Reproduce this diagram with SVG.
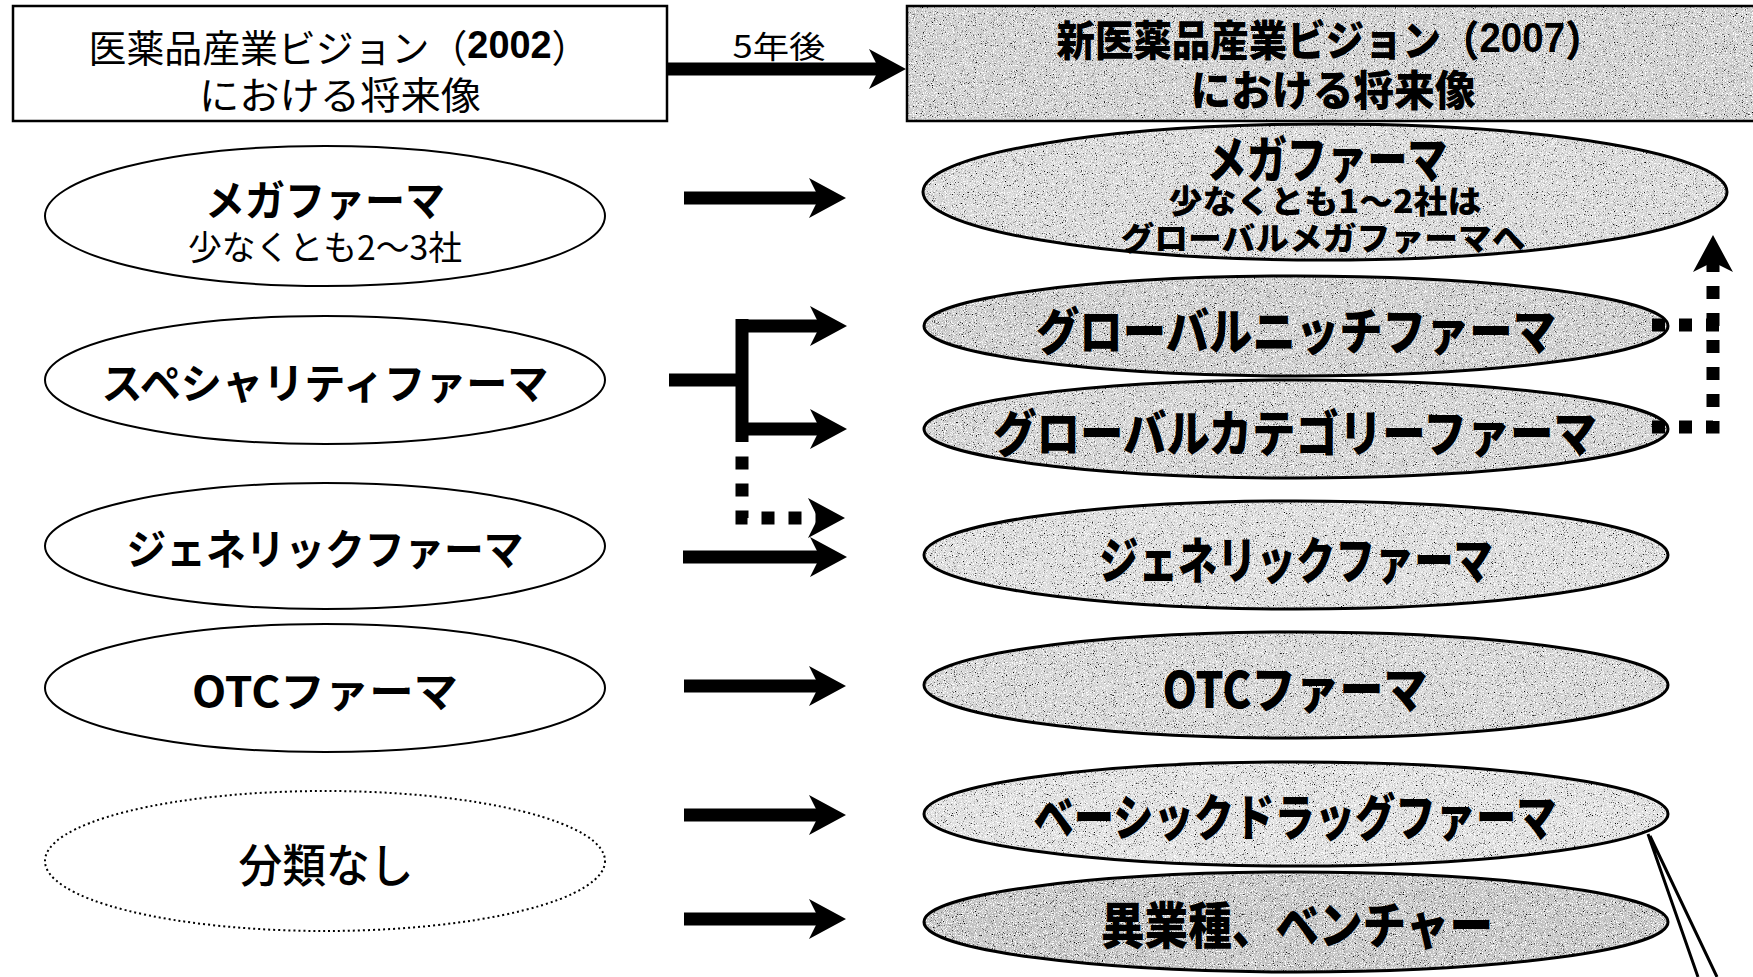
<svg xmlns="http://www.w3.org/2000/svg" width="1753" height="977" viewBox="0 0 1753 977">
<defs>
<style>
text{font-family:"Noto Sans CJK JP","Noto Sans",sans-serif;fill:#000;text-anchor:middle;dominant-baseline:central}
.lt{font-size:42px;font-weight:700}
.ls{font-size:34px;font-weight:400}
.rt{font-size:50px;font-weight:900}
.rs{font-size:32px;font-weight:900}
.hd{font-size:38px;font-weight:400}
.hr{font-size:42px;font-weight:900}
.num{font-family:"Liberation Sans",Arial,sans-serif;font-weight:700}
.lo{fill:#fff;stroke:#000;stroke-width:2}
.ro{fill:none;stroke:#000;stroke-width:3}
.box{stroke:#000;stroke-width:2.5}
.solid{fill:none;stroke:#000;stroke-width:13}
.dash{fill:none;stroke:#000;stroke-width:13;stroke-dasharray:13 14}
</style>
<filter id="grain" x="0" y="0" width="1" height="1" color-interpolation-filters="sRGB">
<feTurbulence type="fractalNoise" baseFrequency="0.9" numOctaves="2" seed="7" result="n"/>
<feColorMatrix in="n" type="matrix" values="0 0 0 0 0  0 0 0 0 0  0 0 0 0 0  -5 0 0 0 1.95" result="d"/>
<feColorMatrix in="n" type="matrix" values="0 0 0 0 1  0 0 0 0 1  0 0 0 0 1  0 5 0 0 -2.5" result="w"/>
<feMerge result="m"><feMergeNode in="d"/><feMergeNode in="w"/></feMerge>
<feComposite in="m" in2="SourceGraphic" operator="in" result="mm"/>
<feMerge><feMergeNode in="SourceGraphic"/><feMergeNode in="mm"/></feMerge>
</filter>
<marker id="ah" markerUnits="userSpaceOnUse" markerWidth="40" markerHeight="42" viewBox="0 0 38 42" refX="14" refY="21" orient="auto">
<path d="M0,1 L37,21 L0,41 L10,21 Z" fill="#000"/>
</marker>
</defs>

<g id="old-header">
<rect x="13" y="6" width="654" height="115" fill="#fff" class="box"/>
<text class="hd" x="339" y="45" textLength="501" lengthAdjust="spacingAndGlyphs">医薬品産業ビジョン（<tspan class="num">2002</tspan>）</text>
<text class="hd" x="340" y="92" font-size="40" textLength="282" lengthAdjust="spacingAndGlyphs">における将来像</text>
</g>

<g id="new-header">
<rect x="907" y="6" width="860" height="115" fill="#cdcdcd" filter="url(#grain)"/>
<rect x="907" y="6" width="860" height="115" fill="none" class="box"/>
<text class="hr" x="1330" y="37" textLength="547" lengthAdjust="spacingAndGlyphs">新医薬品産業ビジョン（<tspan class="num">2007</tspan>）</text>
<text class="hr" x="1333" y="87" textLength="285" lengthAdjust="spacingAndGlyphs">における将来像</text>
</g>

<g id="l-mega">
<ellipse class="lo" cx="325" cy="216" rx="280" ry="70"/>
<text class="lt" x="325" y="197" textLength="240" lengthAdjust="spacingAndGlyphs">メガファーマ</text>
<text class="ls" x="325" y="245" textLength="274" lengthAdjust="spacingAndGlyphs">少なくとも2～3社</text>
</g>
<g id="l-specialty">
<ellipse class="lo" cx="325" cy="380" rx="280" ry="64"/>
<text class="lt" x="325" y="380" textLength="447" lengthAdjust="spacingAndGlyphs">スペシャリティファーマ</text>
</g>
<g id="l-generic">
<ellipse class="lo" cx="325" cy="546" rx="280" ry="63"/>
<text class="lt" x="325" y="546" textLength="397" lengthAdjust="spacingAndGlyphs">ジェネリックファーマ</text>
</g>
<g id="l-otc">
<ellipse class="lo" cx="325" cy="688" rx="280" ry="64"/>
<text class="lt" x="325" y="688" textLength="266" lengthAdjust="spacingAndGlyphs">OTCファーマ</text>
</g>
<g id="l-none">
<ellipse cx="325" cy="861" rx="280" ry="70" fill="#fff" stroke="#000" stroke-width="2" stroke-dasharray="2 3"/>
<text x="326" y="862" font-size="46" font-weight="500" textLength="175" lengthAdjust="spacingAndGlyphs">分類なし</text>
</g>

<g id="r-mega">
<ellipse cx="1325" cy="192" rx="402" ry="68" fill="#d6d6d6" filter="url(#grain)"/>
<ellipse class="ro" cx="1325" cy="192" rx="402" ry="68"/>
<text class="rt" x="1327" y="156" font-size="42" textLength="241" lengthAdjust="spacingAndGlyphs">メガファーマ</text>
<text class="rs" x="1325" y="199" textLength="313" lengthAdjust="spacingAndGlyphs">少なくとも1～2社は</text>
<text class="rs" x="1323" y="236" textLength="405" lengthAdjust="spacingAndGlyphs">グローバルメガファーマへ</text>
</g>
<g id="r-niche">
<ellipse cx="1296" cy="326" rx="372" ry="50" fill="#cacaca" filter="url(#grain)"/>
<ellipse class="ro" cx="1296" cy="326" rx="372" ry="50"/>
<text class="rt" x="1296" y="328" textLength="520" lengthAdjust="spacingAndGlyphs">グローバルニッチファーマ</text>
</g>
<g id="r-category">
<ellipse cx="1296" cy="429" rx="372" ry="49" fill="#d0d0d0" filter="url(#grain)"/>
<ellipse class="ro" cx="1296" cy="429" rx="372" ry="49"/>
<text class="rt" x="1295" y="430" textLength="604" lengthAdjust="spacingAndGlyphs">グローバルカテゴリーファーマ</text>
</g>
<g id="r-generic">
<ellipse cx="1296" cy="555" rx="372" ry="54" fill="#dadada" filter="url(#grain)"/>
<ellipse class="ro" cx="1296" cy="555" rx="372" ry="54"/>
<text class="rt" x="1296" y="557" textLength="394" lengthAdjust="spacingAndGlyphs">ジェネリックファーマ</text>
</g>
<g id="r-otc">
<ellipse cx="1296" cy="685" rx="372" ry="53" fill="#d3d3d3" filter="url(#grain)"/>
<ellipse class="ro" cx="1296" cy="685" rx="372" ry="53"/>
<text class="rt" x="1295" y="686" textLength="265" lengthAdjust="spacingAndGlyphs">OTCファーマ</text>
</g>
<g id="r-basic">
<ellipse cx="1296" cy="814" rx="372" ry="52" fill="#dedede" filter="url(#grain)"/>
<ellipse class="ro" cx="1296" cy="814" rx="372" ry="52"/>
<text class="rt" x="1295" y="814" textLength="523" lengthAdjust="spacingAndGlyphs">ベーシックドラッグファーマ</text>
</g>
<g id="r-venture">
<ellipse cx="1296" cy="922" rx="372" ry="50" fill="#c2c2c2" filter="url(#grain)"/>
<ellipse class="ro" cx="1296" cy="922" rx="372" ry="50"/>
<text class="rt" x="1297" y="922" textLength="392" lengthAdjust="spacingAndGlyphs">異業種、ベンチャー</text>
</g>

<g id="connectors">
<text x="779" y="44" font-size="31" textLength="93" lengthAdjust="spacingAndGlyphs">5年後</text>
<path class="solid" d="M667,69 H883" marker-end="url(#ah)"/>
<path class="solid" d="M684,198 H823" marker-end="url(#ah)"/>
<path class="solid" d="M669,380 H742"/>
<path class="solid" d="M742,319 V442"/>
<path class="solid" d="M742,326 H824" marker-end="url(#ah)"/>
<path class="solid" d="M742,429 H824" marker-end="url(#ah)"/>
<path class="dash" d="M742,456.5 V518 H822" marker-end="url(#ah)"/>
<path class="solid" d="M683,557 H824" marker-end="url(#ah)"/>
<path class="solid" d="M684,686 H823" marker-end="url(#ah)"/>
<path class="solid" d="M684,815 H823" marker-end="url(#ah)"/>
<path class="solid" d="M684,919 H823" marker-end="url(#ah)"/>
<path class="dash" d="M1652,325 H1719"/>
<path class="dash" d="M1652,427 H1713 V258" marker-end="url(#ah)"/>
<path d="M1648,834 L1698,977 M1650,836 L1717,977" fill="none" stroke="#000" stroke-width="3"/>
</g>
</svg>
